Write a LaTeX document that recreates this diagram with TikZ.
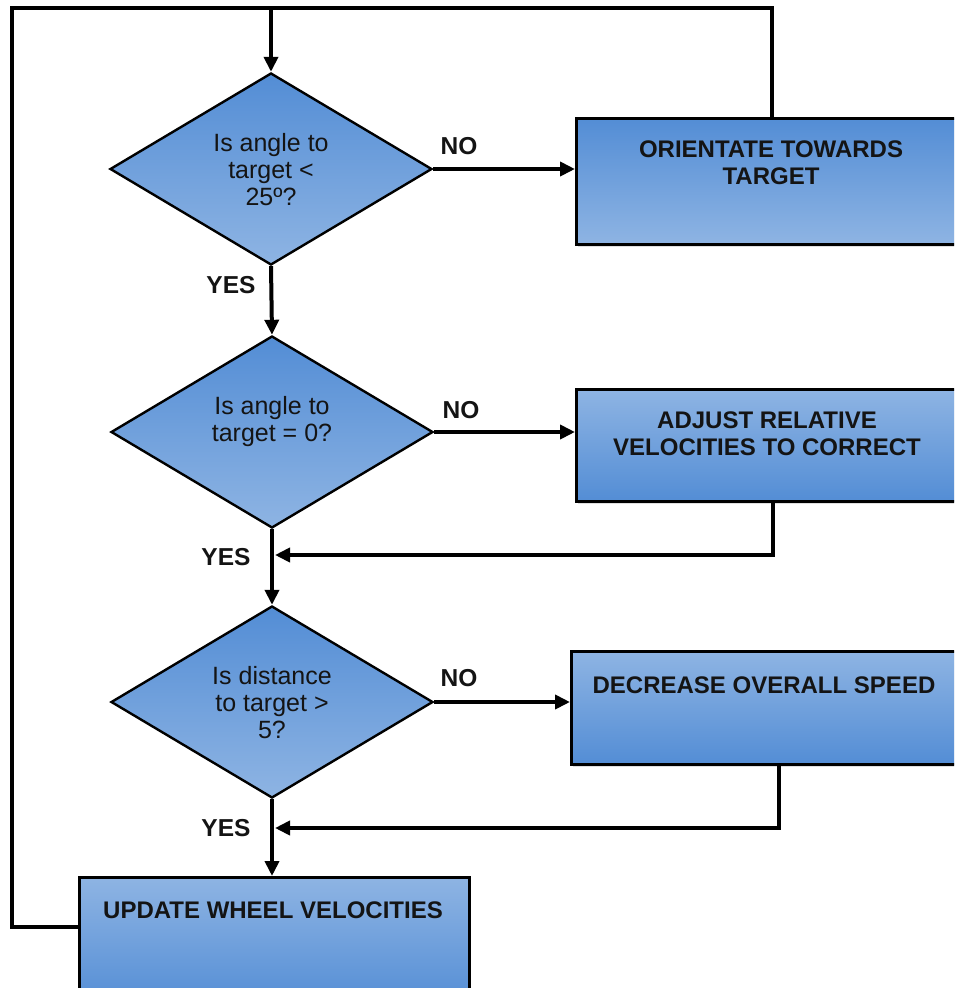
\documentclass[tikz,border=0pt]{standalone}
\usepackage{fontspec}
\setmainfont{Liberation Sans}
\usetikzlibrary{shapes.geometric,arrows.meta,calc,shadows}
\definecolor{bdark}{RGB}{83,141,213}
\definecolor{blight}{RGB}{142,180,227}
\definecolor{ink}{RGB}{20,20,20}
\begin{document}
\begin{tikzpicture}[x=1pt,y=-1pt,
  line/.style={line width=4pt, draw=black},
  arr/.style={line width=4pt, draw=black, -{Triangle[length=15pt,width=14pt]}},
  boxbase/.style={draw=black, line width=2.6pt, rectangle, anchor=north west, inner sep=0pt,
    drop shadow={shadow xshift=2pt, shadow yshift=-3pt, opacity=0.25}},
  boxdn/.style={boxbase, top color=bdark, bottom color=blight},
  boxup/.style={boxbase, top color=blight, bottom color=bdark},
  dec/.style={diamond, draw=black, line width=2.4pt, top color=bdark, bottom color=blight,
    inner sep=0pt, minimum width=322pt, minimum height=192pt},
  qtxt/.style={align=center, text=ink, inner sep=0pt, font=\fontsize{25}{27}\selectfont},
  btxt/.style={align=center, text=ink, inner sep=0pt, font=\fontsize{24}{27}\selectfont\bfseries},
  lbl/.style={text=ink, inner sep=0pt, font=\fontsize{24.5}{26}\selectfont\bfseries}]
\clip (0,0) rectangle (954,988);
\fill[white] (0,0) rectangle (954,988);

% process boxes
\node[boxdn, minimum width=391pt, minimum height=126pt] (o1) at (575,117) {};
\node[boxup, minimum width=394pt, minimum height=112pt] (a2) at (575,388) {};
\node[boxup, minimum width=416pt, minimum height=113pt] (s3) at (570,650) {};
\node[boxup, minimum width=390pt, minimum height=130pt] (u4) at (78,876) {};

% decisions
\node[dec] (d1) at (271,169) {};
\node[dec] (d2) at (272,432) {};
\node[dec] (d3) at (272,702) {};

% texts
\node[qtxt] (t1) at (271,170) {Is angle to\\target <\\25º?};
\node[qtxt] (t2) at (272,422) {Is angle to\\target = 0?};
\node[qtxt] (t3) at (272,703) {Is distance\\to target >\\5?};
\node[btxt] (bt1) at (771,163) {ORIENTATE TOWARDS\\TARGET};
\node[btxt] (bt2) at (767,434) {ADJUST RELATIVE\\VELOCITIES TO CORRECT};
\node[btxt] (bt3) at (764,685) {DECREASE OVERALL SPEED};
\node[btxt] (bt4) at (273,910) {UPDATE WHEEL VELOCITIES};

% labels
\node[lbl] (no1) at (459,146) {NO};
\node[lbl] (no2) at (461,410) {NO};
\node[lbl] (no3) at (459,678) {NO};
\node[lbl] (yes1) at (231,285) {YES};
\node[lbl] (yes2) at (226,557) {YES};
\node[lbl] (yes3) at (226,828) {YES};

% coordinates
\coordinate (tl) at (12,8);
\coordinate (tj) at (271,8);
\coordinate (j2) at (275,555);
\coordinate (j3) at (275,828);

% connectors
\draw[line] ($(u4.north west)+(0,51)$) -| (tl) -| (o1.north);
\draw[arr] (tj) -- (d1.north);
\draw[arr] (d1.east) -- (d1.east -| o1.west);
\draw[arr] (d2.east) -- (d2.east -| a2.west);
\draw[arr] (d3.east) -- (d3.east -| s3.west);
\draw[arr] (d1.south) -- (d2.north);
\draw[arr] (d2.south) -- (d3.north);
\draw[arr] (d3.south) -- (d3.south |- u4.north);
\draw[arr] (a2.south) |- (j2);
\draw[arr] (s3.south) |- (j3);
\end{tikzpicture}
\end{document}
